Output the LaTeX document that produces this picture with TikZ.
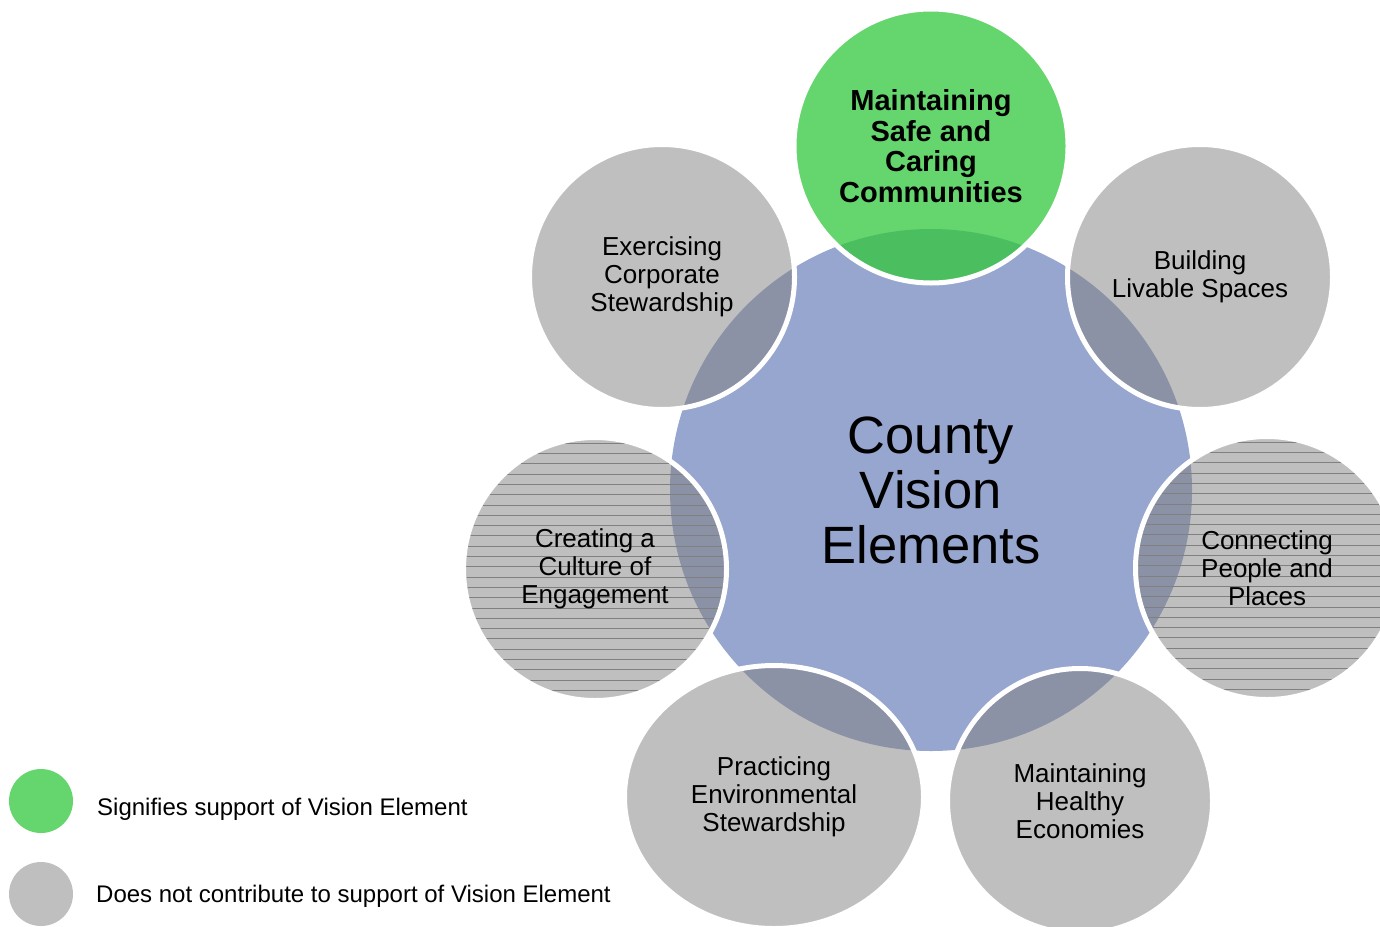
\documentclass[tikz,border=0pt]{standalone}
\usepackage{fontspec}
\setmainfont{Liberation Sans}
\usetikzlibrary{positioning, shapes.geometric}
\definecolor{visionblue}{RGB}{151,166,206}
\definecolor{supportgreen}{RGB}{50,200,60}

\begin{document}
\begin{tikzpicture}[x=1pt, y=-1pt,
    element/.style={circle, draw=white, line width=5pt, fill=black!50, fill opacity=0.5, text opacity=1, inner sep=0pt, align=center, font=\fontsize{26}{28}\selectfont},
    hatch/.style={line width=0.6pt, black!50},
    keydot/.style={circle, minimum size=64pt, inner sep=0pt},
    keytext/.style={anchor=west, inner sep=0pt, font=\fontsize{24}{26}\selectfont}]
    \useasboundingbox (0,0) rectangle (1380,926);

    % Centre
    \node[circle, fill=visionblue, minimum size=522pt, inner sep=0pt, align=center, font=\fontsize{52.5}{55}\selectfont] (vision) at (931,490) {County\\Vision\\Elements};

    % Lines under the two striped elements
    \foreach \cx/\cy in {595/569, 1267/568} {
        \begin{scope}
            \clip (\cx,\cy) circle[radius=129];
            \foreach \k in {0,...,26}
                \draw[hatch] (\cx-135,\cy-126+\k*10.3) -- (\cx+135,\cy-126+\k*10.3);
        \end{scope}
    }

    % Elements round the centre
    \node[element, fill=supportgreen, fill opacity=0.75, minimum size=274pt, font=\bfseries\fontsize{29}{30.5}\selectfont] (safe) at (931,146) {Maintaining\\Safe and\\Caring\\Communities};
    \node[element, minimum size=265pt] (corporate) at (662,277) {Exercising\\Corporate\\Stewardship};
    \node[element, minimum size=265pt] (livable) at (1200,277) {Building\\Livable Spaces};
    \node[element, minimum size=263pt] (engagement) at (595,569) {Creating a\\Culture of\\Engagement};
    \node[element, minimum size=263pt] (connecting) at (1267,568) {Connecting\\People and\\Places};
    \node[element, ellipse, minimum width=299pt, minimum height=263pt] (environmental) at (774,797) {Practicing\\Environmental\\Stewardship};
    \node[element, minimum size=265pt] (economies) at (1080,801) {Maintaining\\Healthy\\Economies};

    % Key
    \node[keydot, fill=supportgreen, fill opacity=0.75] (keysupport) at (41,801) {};
    \node[keydot, fill=black!50, fill opacity=0.5] (keynone) at (41,894) {};
    \node[keytext] (keysupporttext) at (97,809) {Signifies support of Vision Element};
    \node[keytext] (keynonetext) at (96,896) {Does not contribute to support of Vision Element};
\end{tikzpicture}
\end{document}
